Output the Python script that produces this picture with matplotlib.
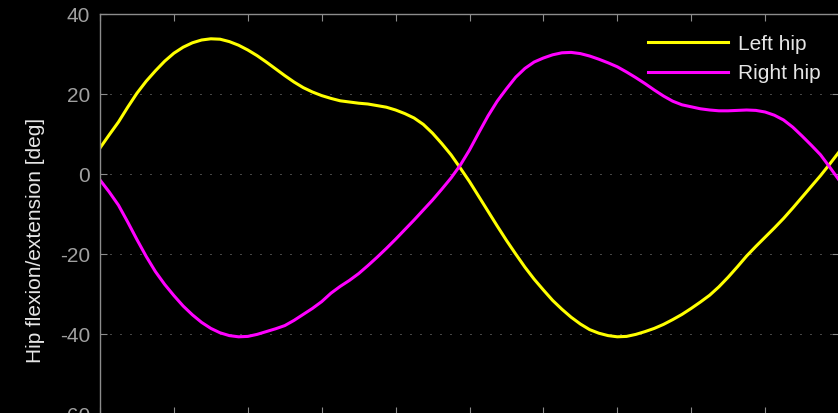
import matplotlib
matplotlib.use("Agg")
import matplotlib.pyplot as plt

# gait cycle [%] and hip angles [deg], read every 1.25 %
cycle = [i * 1.25 for i in range(81)]
left_hip = [6.5, 9.8, 13.0, 16.7, 20.2, 23.2, 25.8, 28.2, 30.2, 31.7, 32.8, 33.5,
            33.8, 33.7, 33.1, 32.2, 31.0, 29.6, 28.0, 26.3, 24.6, 23.0, 21.6, 20.5,
            19.6, 18.9, 18.3, 18.0, 17.7, 17.5, 17.1, 16.7, 16.0, 15.1, 14.0, 12.4,
            10.2, 7.6, 4.8, 1.5, -1.9, -5.6, -9.3, -13.0, -16.6, -20.0, -23.3, -26.3,
            -29.0, -31.6, -33.8, -35.8, -37.5, -38.9, -39.8, -40.4, -40.7, -40.6,
            -40.1, -39.4, -38.6, -37.6, -36.4, -35.1, -33.6, -32.0, -30.3, -28.2,
            -25.8, -23.2, -20.5, -18.1, -15.8, -13.5, -11.1, -8.5, -5.8, -3.1, -0.4,
            2.5, 5.5]
right_hip = [-1.5, -4.5, -7.8, -12.0, -16.4, -20.6, -24.4, -27.6, -30.4, -33.0,
             -35.2, -37.1, -38.6, -39.7, -40.4, -40.7, -40.6, -40.1, -39.4, -38.7,
             -37.9, -36.6, -35.1, -33.6, -31.9, -29.8, -28.1, -26.6, -24.9, -22.9,
             -20.8, -18.6, -16.3, -13.9, -11.5, -9.0, -6.5, -3.8, -1.0, 2.2, 6.0,
             10.3, 14.5, 18.2, 21.3, 24.2, 26.4, 28.0, 29.0, 29.8, 30.3, 30.4, 30.1,
             29.5, 28.7, 27.8, 26.8, 25.5, 24.1, 22.6, 21.0, 19.5, 18.2, 17.3, 16.8,
             16.3, 16.0, 15.8, 15.8, 15.9, 16.0, 15.9, 15.5, 14.7, 13.5, 11.7, 9.5,
             7.2, 4.8, 1.7, -1.5]
yticks = [-60, -40, -20, 0, 20, 40]

plt.rcParams['font.family'] = ['Liberation Sans', 'DejaVu Sans']
plt.rcParams['axes.unicode_minus'] = False

fig = plt.figure(figsize=(8.38, 4.13), dpi=100, facecolor='black')
ax = fig.add_axes([100/838, -1/413, 739/838, 400/413], facecolor='black')

ax.plot(cycle, left_hip, color='#ffff00', lw=2.2, label='Left hip')
ax.plot(cycle, right_hip, color='#ff00ff', lw=2.2, label='Right hip')

ax.set_xlim(0, 100)
ax.set_ylim(-60, 40)
ax.set_xticks(range(0, 101, 10))
ax.set_yticks(yticks)
ax.set_xticklabels([])
ax.yaxis.grid(True, color='#8c8c8c', lw=0.72, linestyle=(0, (1, 9)))
ax.tick_params(direction='in', length=5, width=0.8, color='#8c8c8c',
               labelcolor='#a0a0a0', labelsize=15, pad=7,
               top=True, right=True)
for s in ax.spines.values():
    s.set_color('#8c8c8c')
    s.set_linewidth(1.0)

ax.set_ylabel('Hip flexion/extension [deg]', color='#e6e6e6', fontsize=15)
ax.yaxis.set_label_coords(-0.075, 0.435)

leg = ax.legend(loc='upper right', bbox_to_anchor=(1.0, 0.995), frameon=False,
                fontsize=15, handlelength=3.85, handletextpad=0.45,
                labelspacing=0.5)
for t in leg.get_texts():
    t.set_color('#e6e6e6')

plt.savefig('out.png', dpi=100, facecolor='black')
